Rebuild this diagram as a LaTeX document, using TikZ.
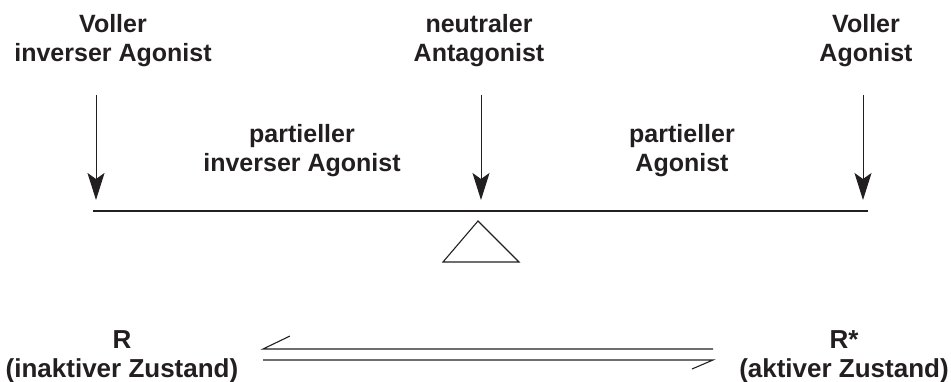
\documentclass[tikz,border=0pt]{standalone}
\usepackage{fontspec}
\setmainfont{Liberation Sans}
\usetikzlibrary{arrows.meta}
\definecolor{ink}{HTML}{231F20}
\begin{document}
\begin{tikzpicture}[x=1pt,y=-1pt,
  label/.style={anchor=base,align=center,inner sep=0pt,text=ink,
    font=\fontsize{25}{29.5}\selectfont\bfseries},
  state/.style={label,font=\fontsize{26}{29}\selectfont\bfseries},
  push/.style={draw=ink,line width=1pt,
    -{Stealth[length=27pt,width=17pt,inset=6pt]}},
  thin/.style={draw=ink,line width=1.1pt}]
\useasboundingbox (0,0) rectangle (951,382);

% ligand labels (anchored at the baseline of the last line)
\node[label] (full-inv) at (113,62) {Voller\\inverser Agonist};
\node[label] (neutral)  at (479,62) {neutraler\\Antagonist};
\node[label] (full-ag)  at (866,62) {Voller\\Agonist};
\node[label] (part-inv) at (302,172) {partieller\\inverser Agonist};
\node[label] (part-ag)  at (682,172) {partieller\\Agonist};

% balance beam and fulcrum
\coordinate (beamL) at (93,211);
\coordinate (beamR) at (868,211);
\draw[thin] (beamL) -- (beamR);
\coordinate (apex) at (478,221);
\coordinate (baseL) at (443,262);
\coordinate (baseR) at (519,262);
\draw[thin,line join=miter] (apex) -- (baseL) -- (baseR) -- cycle;

% pressure arrows onto the beam
\coordinate (a1s) at (96,95);  \coordinate (a1e) at (96,200);
\coordinate (a2s) at (481,95); \coordinate (a2e) at (481,200);
\coordinate (a3s) at (863,95); \coordinate (a3e) at (863,200);
\draw[push] (a1s) -- (a1e);
\draw[push] (a2s) -- (a2e);
\draw[push] (a3s) -- (a3e);

% receptor states
\node[state] (inactive) at (122,377) {R\\(inaktiver Zustand)};
\node[state] (active)   at (844,377) {R*\\(aktiver Zustand)};

% equilibrium half-arrows
\coordinate (eqTL) at (263,349); \coordinate (eqTR) at (713,349);
\coordinate (eqBL) at (263,360); \coordinate (eqBR) at (713,360);
\coordinate (hookT) at (290,336);
\coordinate (hookB) at (692,369);
\draw[thin] (eqTR) -- (eqTL) -- (hookT);
\draw[thin] (eqBL) -- (eqBR) -- (hookB);
\end{tikzpicture}
\end{document}
